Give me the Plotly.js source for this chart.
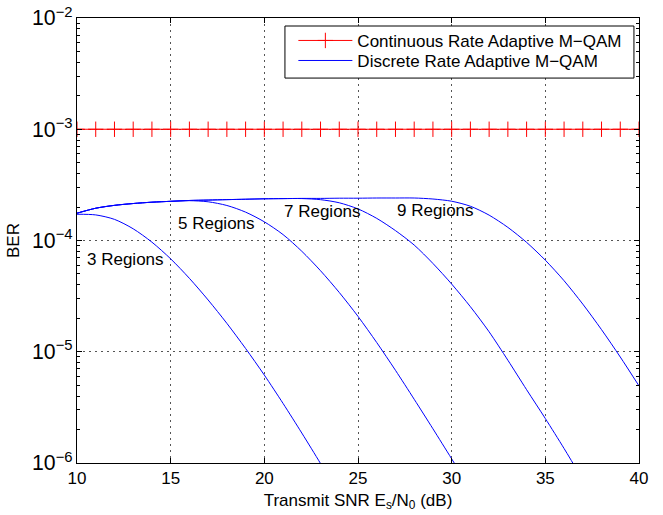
<!DOCTYPE html>
<html>
<head>
<meta charset="utf-8">
<script src="https://cdn.plot.ly/plotly-3.0.1.min.js"></script>
<style>html,body{margin:0;padding:0;background:#fff;}#chart{width:663px;height:515px;}</style>
</head>
<body>
<div id="chart"></div>
<script>
// Continuous rate adaptive M-QAM (target BER)
const snrCont = [10,11,12,13,14,15,16,17,18,19,20,21,22,23,24,25,26,27,28,29,30,31,32,33,34,35,36,37,38,39,40];
const berCont = [1e-3,1e-3,1e-3,1e-3,1e-3,1e-3,1e-3,1e-3,1e-3,1e-3,1e-3,1e-3,1e-3,1e-3,1e-3,1e-3,1e-3,1e-3,1e-3,1e-3,1e-3,1e-3,1e-3,1e-3,1e-3,1e-3,1e-3,1e-3,1e-3,1e-3,1e-3];

// Discrete rate adaptive M-QAM, 3 regions
const snr3 = [10,11,12,13,14,15,16,17,18,19,20,21,22,23,24];
const ber3 = [1.722e-4,1.698e-4,1.549e-4,1.274e-4,9.66e-5,6.84e-5,4.57e-5,2.92e-5,1.80e-5,1.07e-5,6.17e-6,3.43e-6,1.86e-6,9.89e-7,5.13e-7];

// 5 regions
const snr5 = [10,11,12,13,14,15,16,17,18,19,20,21,22,23,24,25,26,27,28,29,30,31];
const ber5 = [1.76e-4,1.95e-4,2.07e-4,2.15e-4,2.21e-4,2.25e-4,2.28e-4,2.228e-4,2.065e-4,1.799e-4,1.472e-4,1.130e-4,8.0e-5,5.35e-5,3.41e-5,2.08e-5,1.21e-5,6.81e-6,3.74e-6,2.03e-6,1.09e-6,5.79e-7];

// 7 regions
const snr7 = [10,11,12,13,14,15,16,17,18,19,20,21,22,23,24,25,26,27,28,29,30,31,32,33,34,35,36,37];
const ber7 = [1.76e-4,1.95e-4,2.07e-4,2.15e-4,2.21e-4,2.25e-4,2.29e-4,2.31e-4,2.33e-4,2.35e-4,2.37e-4,2.38e-4,2.382e-4,2.328e-4,2.183e-4,1.923e-4,1.581e-4,1.227e-4,9.10e-5,6.22e-5,4.06e-5,2.54e-5,1.51e-5,8.39e-6,4.56e-6,2.51e-6,1.35e-6,7.06e-7];

// 9 regions
const snr9 = [10,11,12,13,14,15,16,17,18,19,20,21,22,23,24,25,26,27,28,29,30,31,32,33,34,35,36,37,38,39,40];
const ber9 = [1.76e-4,1.95e-4,2.07e-4,2.15e-4,2.21e-4,2.25e-4,2.29e-4,2.31e-4,2.33e-4,2.35e-4,2.37e-4,2.38e-4,2.39e-4,2.39e-4,2.40e-4,2.40e-4,2.41e-4,2.41e-4,2.41e-4,2.36e-4,2.254e-4,2.032e-4,1.690e-4,1.312e-4,9.62e-5,6.65e-5,4.35e-5,2.68e-5,1.58e-5,8.97e-6,4.93e-6];

// Curve labels
const labelTexts = ['3 Regions','5 Regions','7 Regions','9 Regions'];
const labelSnr = [12.57, 17.46, 23.08, 29.12];
const labelBer = [6.72e-5, 1.416e-4, 1.815e-4, 1.866e-4];

const seriesNames = ['Continuous Rate Adaptive M\u2212QAM','Discrete Rate Adaptive M\u2212QAM'];

const FONT = 'Liberation Sans, Arial, Helvetica, sans-serif';
const blue = '#0000ff';
const lineStyle = {color:blue, width:1, shape:'spline', smoothing:0.8};

const traces = [
  {x: snrCont, y: berCont, type:'scatter', mode:'lines+markers', name: seriesNames[0], legend:'legend',
   line:{color:'#ff0000', width:1},
   marker:{symbol:'cross-thin', size:11, color:'#ff0000', line:{color:'#ff0000', width:1}}},
  {x: snr3, y: ber3, type:'scatter', mode:'lines', name: seriesNames[1], legend:'legend2', line:lineStyle},
  {x: snr5, y: ber5, type:'scatter', mode:'lines', name: seriesNames[1], legend:'legend2', showlegend:false, line:lineStyle},
  {x: snr7, y: ber7, type:'scatter', mode:'lines', name: seriesNames[1], legend:'legend2', showlegend:false, line:lineStyle},
  {x: snr9, y: ber9, type:'scatter', mode:'lines', name: seriesNames[1], legend:'legend2', showlegend:false, line:lineStyle}
];

const annotations = labelTexts.map((t,i) => ({
  x: labelSnr[i], y: Math.log10(labelBer[i]), xref:'x', yref:'y', text: t, showarrow:false,
  font:{family:FONT, size:17, color:'#000'}, xanchor:'center', yanchor:'middle'
}));

const gridDash = '1.5px,4.5px';
const legFont = {family:FONT, size:17, color:'#000'};

const layout = {
  width: 663, height: 515,
  margin: {l:77, r:24, t:18, b:52, pad:0},
  paper_bgcolor:'#fff', plot_bgcolor:'#fff',
  font:{family:FONT, size:17, color:'#000'},
  showlegend:true,
  legend:{x:0.385, y:0.989, xanchor:'left', yanchor:'top', bgcolor:'rgba(0,0,0,0)',
          borderwidth:0, font:legFont, itemwidth:54},
  legend2:{x:0.385, y:0.944, xanchor:'left', yanchor:'top', bgcolor:'rgba(0,0,0,0)',
          borderwidth:0, font:legFont, itemwidth:54},
  shapes:[{type:'rect', xref:'paper', yref:'paper', x0:0.370, x1:0.991, y0:0.865, y1:0.982,
           line:{color:'#000', width:1}, fillcolor:'#fff', layer:'above'}],
  xaxis:{type:'linear', range:[10,40], tick0:10, dtick:5, ticks:'inside', ticklen:5, tickcolor:'#000',
         showline:true, linecolor:'#000', linewidth:1, mirror:'ticks',
         showgrid:true, gridcolor:'#555', gridwidth:1, griddash:gridDash, zeroline:false,
         tickfont:{family:FONT, size:17, color:'#000'},
         title:{text:'Transmit SNR E<sub>s</sub>/N<sub>0</sub> (dB)', font:{family:FONT, size:17, color:'#000'}, standoff:6}},
  yaxis:{type:'log', range:[-6,-2], dtick:1, exponentformat:'power', ticks:'inside', ticklen:5, tickcolor:'#000',
         showline:true, linecolor:'#000', linewidth:1, mirror:'ticks',
         showgrid:true, gridcolor:'#555', gridwidth:1, griddash:gridDash, zeroline:false,
         minor:{ticks:'inside', ticklen:3, tickcolor:'#000', dtick:'D1', showgrid:false},
         tickfont:{family:FONT, size:17, color:'#000'},
         title:{text:'BER', font:{family:FONT, size:17, color:'#000'}, standoff:8}},
  annotations: annotations
};

Plotly.newPlot('chart', traces, layout, {displayModeBar:false, staticPlot:true});
</script>
</body>
</html>
